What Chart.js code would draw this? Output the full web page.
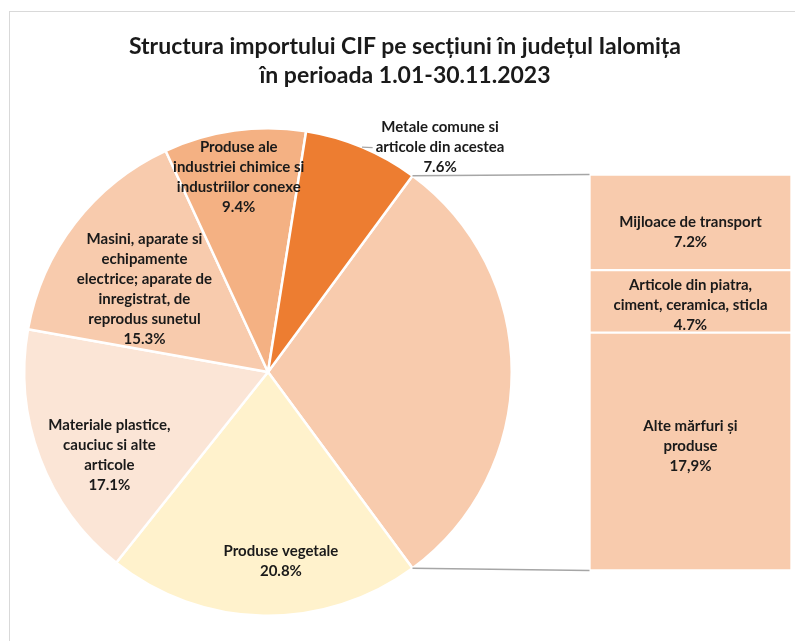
<!DOCTYPE html>
<html>
<head>
<meta charset="utf-8">
<script src="https://cdn.jsdelivr.net/npm/chart.js@4"></script>
<style>
  html, body { margin: 0; padding: 0; background: #fff; overflow: hidden; }
  #wrap { position: relative; width: 795px; height: 641px; overflow: hidden; }
  #frame { position: absolute; left: 9px; top: 11px; width: 820px; height: 700px; border: 1.5px solid #d9d9d9; }
  canvas { position: absolute; left: 0; top: 0; }
  #title {
    position: absolute; left: 0; top: 31px; width: 810px; text-align: center;
    font: bold 23px Lato, sans-serif; line-height: 29px; color: #1a1a1a;
  }
</style>
</head>
<body>
<div id="wrap">
  <div id="frame"></div>
  <canvas id="pie" width="795" height="641"></canvas>
  <canvas id="bar" width="795" height="641"></canvas>
  <div id="title">Structura importului CIF pe secțiuni în județul Ialomița<br>în perioada 1.01-30.11.2023</div>
</div>
<script>
// pie slices (clockwise, after the split-off "other" slice)
const pieCategories = [
  ["Produse vegetale"],
  ["Materiale plastice,", "cauciuc si alte", "articole"],
  ["Masini, aparate si", "echipamente", "electrice; aparate de", "inregistrat, de", "reprodus sunetul"],
  ["Produse ale", "industriei chimice si", "industriilor conexe"],
  ["Metale comune si", "articole din acestea"],
];
const pieValues = [20.8, 17.1, 15.3, 9.4, 7.6];
const pieColors = ["#FFF2CC", "#FBE5D6", "#F8CBAD", "#F4B183", "#ED7D31"];

// stacked bar, bottom to top
const barCategories = [
  ["Alte mărfuri și", "produse"],
  ["Articole din piatra,", "ciment, ceramica, sticla"],
  ["Mijloace de transport"],
];
const barValues = [17.9, 4.7, 7.2];
const barValueText = ["17,9%", "4.7%", "7.2%"];
const otherColor = "#F8CBAD";

const otherTotal = barValues.reduce((a, b) => a + b, 0);

// label placement inside the pie: fraction of radius, angle shift in degrees
const labelPlace = [
  { r: 0.776, da: -5 },
  { r: 0.735, da: -7 },
  { r: 0.61, da: -3.8 },
  { r: 0.81, da: -0.6 },
  { r: 1.16, da: 14.8, leader: true },
];
// vertical nudge of the bar labels, px
const barLabelShift = [-5, 4, 10];

const FONT = "bold 15px Lato, sans-serif";
const TEXT = "#1a1a1a";
const LINE_H = 20;

function drawLines(ctx, lines, cx, cy) {
  ctx.font = FONT;
  ctx.fillStyle = TEXT;
  ctx.textAlign = "center";
  ctx.textBaseline = "middle";
  const y0 = cy - ((lines.length - 1) * LINE_H) / 2;
  lines.forEach((t, k) => ctx.fillText(t, cx, y0 + k * LINE_H));
  return y0;
}

const pieLabels = {
  id: "pieLabels",
  afterDatasetsDraw(chart) {
    const ctx = chart.ctx;
    const arcs = chart.getDatasetMeta(0).data;
    ctx.save();
    arcs.forEach((arc, i) => {
      if (i === 0) return;
      const p = labelPlace[i - 1];
      const mid = (arc.startAngle + arc.endAngle) / 2;
      const a = mid + (p.da * Math.PI) / 180;
      const cx = arc.x + Math.cos(a) * arc.outerRadius * p.r;
      const cy = arc.y + Math.sin(a) * arc.outerRadius * p.r;
      const lines = [...pieCategories[i - 1], pieValues[i - 1].toFixed(1) + "%"];
      const y0 = drawLines(ctx, lines, cx, cy);
      if (p.leader) {
        ctx.font = FONT;
        const w = ctx.measureText(lines[1]).width;
        ctx.strokeStyle = "#a6a6a6";
        ctx.lineWidth = 1.2;
        ctx.beginPath();
        ctx.moveTo(arc.x + Math.cos(mid) * arc.outerRadius, arc.y + Math.sin(mid) * arc.outerRadius);
        ctx.lineTo(cx - w / 2 - 3, y0 + LINE_H);
        ctx.stroke();
      }
    });
    ctx.restore();
  },
};

const pieChart = new Chart(document.getElementById("pie"), {
  type: "pie",
  data: {
    labels: ["Alte", ...pieCategories.map((c) => c.join(" "))],
    datasets: [{
      data: [otherTotal, ...pieValues],
      backgroundColor: [otherColor, ...pieColors],
      borderColor: "#ffffff",
      borderWidth: 2.5,
    }],
  },
  options: {
    responsive: false,
    animation: false,
    events: [],
    rotation: 90 - (otherTotal / 100) * 180,
    layout: { padding: { left: 23, right: 282, top: 127, bottom: 24 } },
    plugins: { legend: { display: false }, tooltip: { enabled: false }, title: { display: false } },
  },
  plugins: [pieLabels],
});

const barOverlay = {
  id: "barOverlay",
  afterDatasetsDraw(chart) {
    const ctx = chart.ctx;
    ctx.save();
    // connector lines from the split slice to the bar
    const arc = pieChart.getDatasetMeta(0).data[0];
    const top = chart.getDatasetMeta(barValues.length - 1).data[0];
    const bottom = chart.getDatasetMeta(0).data[0];
    const left = top.x - top.width / 2;
    ctx.strokeStyle = "#a6a6a6";
    ctx.lineWidth = 1.5;
    ctx.beginPath();
    ctx.moveTo(arc.x + Math.cos(arc.startAngle) * arc.outerRadius, arc.y + Math.sin(arc.startAngle) * arc.outerRadius);
    ctx.lineTo(left, top.y);
    ctx.moveTo(arc.x + Math.cos(arc.endAngle) * arc.outerRadius, arc.y + Math.sin(arc.endAngle) * arc.outerRadius);
    ctx.lineTo(left, bottom.base);
    ctx.stroke();
    // segment labels
    barValues.forEach((v, i) => {
      const el = chart.getDatasetMeta(i).data[0];
      drawLines(ctx, [...barCategories[i], barValueText[i]], el.x, (el.y + el.base) / 2 + barLabelShift[i]);
    });
    ctx.restore();
  },
};

new Chart(document.getElementById("bar"), {
  type: "bar",
  data: {
    labels: ["Alte"],
    datasets: barValues.map((v, i) => ({
      label: barCategories[i].join(" "),
      data: [v],
      backgroundColor: otherColor,
      borderColor: "#ffffff",
      borderWidth: 1.5,
      borderSkipped: false,
      barPercentage: 1,
      categoryPercentage: 1,
    })),
  },
  options: {
    responsive: false,
    animation: false,
    events: [],
    layout: { padding: { left: 589.5, right: 3.5, top: 174.5, bottom: 70.5 } },
    scales: {
      x: { display: false, stacked: true },
      y: { display: false, stacked: true, min: 0, max: otherTotal },
    },
    plugins: { legend: { display: false }, tooltip: { enabled: false } },
  },
  plugins: [barOverlay],
});
</script>
</body>
</html>
